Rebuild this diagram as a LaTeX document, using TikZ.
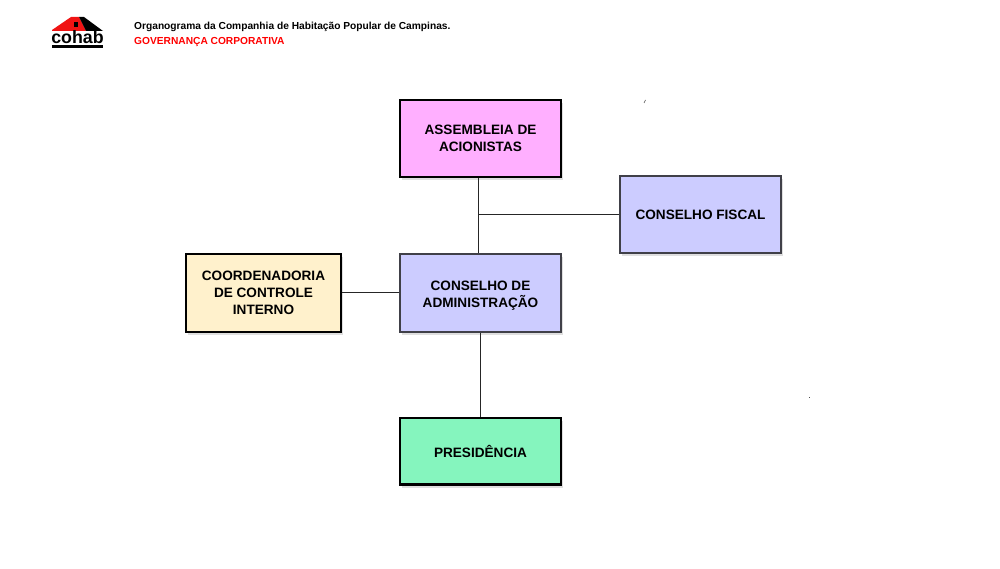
\documentclass[tikz,border=0pt]{standalone}
\usepackage{fontspec}
\setmainfont{Liberation Sans}
\usetikzlibrary{shadows}
\definecolor{boxpink}{RGB}{255,175,255}
\definecolor{boxblue}{RGB}{204,204,255}
\definecolor{boxcream}{RGB}{255,241,204}
\definecolor{boxgreen}{RGB}{133,245,190}
\definecolor{edgegray}{RGB}{64,64,72}
\definecolor{logored}{RGB}{240,20,20}
\tikzset{
orgbox/.style={draw=black,line width=2.4pt,align=center,font=\fontsize{13.6}{17.3}\selectfont\bfseries,
  inner sep=0pt,drop shadow={shadow xshift=1.5pt,shadow yshift=-3pt,opacity=0.25}},
graybox/.style={orgbox,draw=edgegray},
orgline/.style={draw=black!85,line width=1pt},
}
\begin{document}
\begin{tikzpicture}[x=1pt,y=-1pt]
\useasboundingbox (0,0) rectangle (1000,569);
% logo
\fill[logored](52,30)--(71,17)--(79,17)--(86,31)--(52,31)--cycle;
\fill[black](79,17)--(84,17)--(103,31)--(86,31)--cycle;
\fill[black](74,22)rectangle(78,27);
\node (cohab) at (77.5,37.5) [inner sep=0pt,font=\fontsize{17.8}{19}\selectfont\bfseries]{cohab};
\fill[black](52,45)rectangle(103,48);
% header
\node (title) at (134,26) [anchor=west,inner sep=0pt,font=\fontsize{10.2}{11}\selectfont\bfseries]{\vphantom{A}\smash{Organograma da Companhia de Habitação Popular de Campinas.}};
\node (sub) at (134,41) [anchor=west,inner sep=0pt,text=red,font=\fontsize{10.2}{11}\selectfont\bfseries]{\vphantom{A}\smash{GOVERNANÇA CORPORATIVA}};
% boxes
\node (assem) at (480.5,138.5) [orgbox,fill=boxpink,minimum width=161pt,minimum height=77pt]{ASSEMBLEIA DE\\ACIONISTAS};
\node (fiscal) at (700.5,214.5) [graybox,fill=boxblue,minimum width=161pt,minimum height=77pt]{CONSELHO FISCAL};
\node (admin) at (480.5,293) [graybox,fill=boxblue,minimum width=161pt,minimum height=78pt]{\rule{0pt}{11.4pt}CONSELHO DE\\\vphantom{A}\smash{ADMINISTRAÇÃO}};
\node (coord) at (263.5,293) [orgbox,fill=boxcream,minimum width=155pt,minimum height=78pt]{COORDENADORIA\\DE CONTROLE\\INTERNO};
\node (pres) at (480.5,451.4) [orgbox,fill=boxgreen,minimum width=161pt,minimum height=66.5pt]{\rule{0pt}{12.4pt}\smash{PRESIDÊNCIA}};
% connectors
\coordinate (tie) at (478.5,214.5);
\coordinate (side) at (370,292.5);
\coordinate (drop) at (480.5,375);
\draw[orgline](assem.south-|tie)--(admin.north-|tie);
\draw[orgline](tie)--(fiscal.west|-tie);
\draw[orgline](coord.east|-side)--(admin.west|-side);
\draw[orgline](admin.south-|drop)--(pres.north-|drop);
% specks
\draw[black!70,line width=0.6pt](644,103)--(645.5,100);
\fill[black!70](809,396.5)rectangle(810,397.5);
\end{tikzpicture}
\end{document}
